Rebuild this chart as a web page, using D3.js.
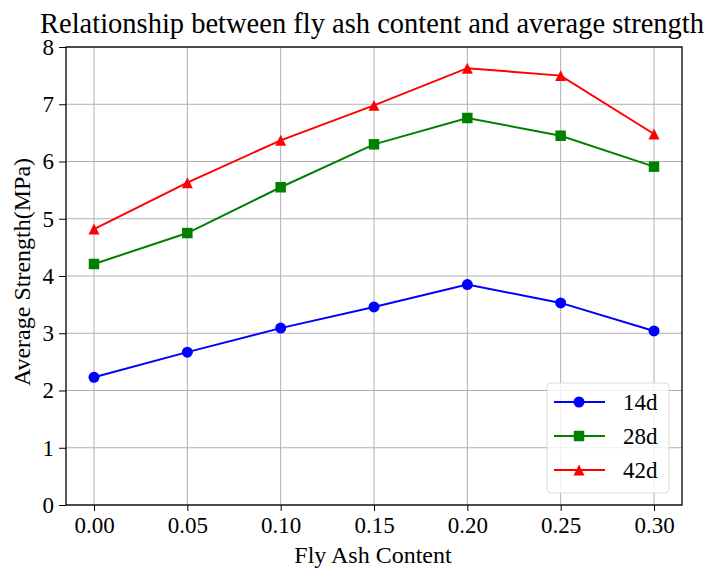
<!DOCTYPE html>
<html>
<head>
<meta charset="utf-8">
<script src="https://cdn.jsdelivr.net/npm/d3@7"></script>
<style>
  html, body { margin: 0; padding: 0; background: #fff; }
  svg text { font-family: "Liberation Serif", "Times New Roman", serif; fill: #000; }
</style>
</head>
<body>
<svg id="chart" width="713" height="568"></svg>
<script>
// Fly ash content (x) and average strength (MPa) at each curing age
const flyAsh = [0.00, 0.05, 0.10, 0.15, 0.20, 0.25, 0.30];
const strength14d = [2.23, 2.67, 3.09, 3.46, 3.85, 3.53, 3.04];
const strength28d = [4.21, 4.75, 5.55, 6.30, 6.76, 6.45, 5.91];
const strength42d = [4.82, 5.63, 6.37, 6.98, 7.63, 7.50, 6.48];
const xTicks = [0.00, 0.05, 0.10, 0.15, 0.20, 0.25, 0.30];
const yTicks = [0, 1, 2, 3, 4, 5, 6, 7, 8];
const seriesNames = ["14d", "28d", "42d"];

// upward triangle centred on its bounding box
const triangleUp = {
  draw(context, size) {
    const h = Math.sqrt(size) / 2;
    context.moveTo(0, -h);
    context.lineTo(h, h);
    context.lineTo(-h, h);
    context.closePath();
  }
};

const series = [
  { name: seriesNames[0], values: strength14d, color: "#0000ff", symbol: d3.symbolCircle, size: 95 },
  { name: seriesNames[1], values: strength28d, color: "#008000", symbol: d3.symbolSquare, size: 110 },
  { name: seriesNames[2], values: strength42d, color: "#ff0000", symbol: triangleUp, size: 120 }
];

const svg = d3.select("#chart");
const plotLeft = 66, plotRight = 682, plotTop = 47, plotBottom = 505;
const tickSize = "23px";
const labelSize = "24px";

const x = d3.scaleLinear().domain([-0.015, 0.315]).range([plotLeft, plotRight]);
const y = d3.scaleLinear().domain([0, 8]).range([plotBottom, plotTop]);

// grid
const grid = svg.append("g");
grid.selectAll(".gx").data(xTicks).join("line")
  .attr("x1", d => x(d)).attr("x2", d => x(d))
  .attr("y1", plotTop).attr("y2", plotBottom)
  .attr("stroke", "#b0b0b0").attr("stroke-width", 1);
grid.selectAll(".gy").data(yTicks).join("line")
  .attr("x1", plotLeft).attr("x2", plotRight)
  .attr("y1", d => y(d)).attr("y2", d => y(d))
  .attr("stroke", "#b0b0b0").attr("stroke-width", 1);

// axes
const xAxis = d3.axisBottom(x).tickValues(xTicks).tickFormat(d3.format(".2f")).tickSize(6).tickPadding(6);
const yAxis = d3.axisLeft(y).tickValues(yTicks).tickFormat(d3.format("d")).tickSize(7).tickPadding(5);

const gx = svg.append("g").attr("transform", `translate(0,${plotBottom})`).call(xAxis);
const gy = svg.append("g").attr("transform", `translate(${plotLeft},0)`).call(yAxis);
[gx, gy].forEach(g => {
  g.select(".domain").remove();
  g.selectAll(".tick line").attr("stroke", "#000").attr("stroke-width", 1);
  g.selectAll(".tick text").style("font-size", tickSize).style("font-family", "Liberation Serif, serif");
});

// frame
svg.append("rect")
  .attr("x", plotLeft).attr("y", plotTop)
  .attr("width", plotRight - plotLeft).attr("height", plotBottom - plotTop)
  .attr("fill", "none").attr("stroke", "#000").attr("stroke-width", 1.3);

// lines and markers
const line = d3.line().x((d, i) => x(flyAsh[i])).y(d => y(d));
series.forEach(s => {
  svg.append("path").datum(s.values)
    .attr("d", line)
    .attr("fill", "none").attr("stroke", s.color).attr("stroke-width", 2);
  svg.append("g").selectAll("path").data(s.values).join("path")
    .attr("d", d3.symbol().type(s.symbol).size(s.size))
    .attr("transform", (d, i) => `translate(${x(flyAsh[i])},${y(d)})`)
    .attr("fill", s.color);
});

// title and axis labels
svg.append("text").attr("x", 372).attr("y", 33).attr("text-anchor", "middle")
  .style("font-size", "28.5px").text("Relationship between fly ash content and average strength");
svg.append("text").attr("x", (plotLeft + plotRight) / 2 - 1).attr("y", 563).attr("text-anchor", "middle")
  .style("font-size", labelSize).text("Fly Ash Content");
svg.append("text").attr("transform", `translate(30,272) rotate(-90)`)
  .attr("text-anchor", "middle").style("font-size", labelSize).text("Average Strength(MPa)");

// legend
const lg = svg.append("g").attr("transform", "translate(547,383)");
lg.append("rect").attr("width", 122).attr("height", 110).attr("rx", 4)
  .attr("fill", "rgba(255,255,255,0.8)").attr("stroke", "#d9d9d9").attr("stroke-width", 1);
series.forEach((s, i) => {
  const cy = 19 + i * 34;
  lg.append("line").attr("x1", 7).attr("x2", 58).attr("y1", cy).attr("y2", cy)
    .attr("stroke", s.color).attr("stroke-width", 2);
  lg.append("path").attr("d", d3.symbol().type(s.symbol).size(s.size))
    .attr("transform", `translate(32,${cy})`).attr("fill", s.color);
  lg.append("text").attr("x", 76).attr("y", cy + 8).style("font-size", tickSize).text(s.name);
});
</script>
</body>
</html>
